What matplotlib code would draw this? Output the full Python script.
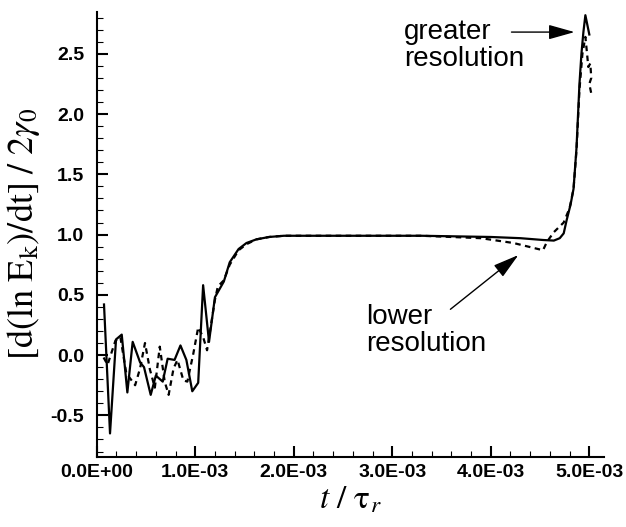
import numpy as np
import matplotlib
matplotlib.use("Agg")
import matplotlib.pyplot as plt
from matplotlib.ticker import MultipleLocator, FormatStrFormatter

plt.rcParams['mathtext.fontset'] = 'stix'

# greater resolution (solid), t in units of 1e-3
t_hi = np.array([0.074, 0.135, 0.196, 0.254, 0.311, 0.365, 0.44, 0.48, 0.548, 0.60,
                 0.67, 0.72, 0.79, 0.85, 0.91, 0.97, 1.03, 1.08, 1.14, 1.20,
                 1.29, 1.35, 1.44, 1.52, 1.62, 1.75, 1.9, 2.5, 3.3, 4.0,
                 4.3, 4.53, 4.64, 4.70, 4.74, 4.77, 4.81, 4.84, 4.87, 4.90,
                 4.92, 4.94, 4.96, 4.98, 5.00]) * 1e-3
g_hi = np.array([0.42, -0.65, 0.13, 0.17, -0.31, 0.11, -0.06, -0.10, -0.33, -0.17,
                 -0.22, -0.03, -0.04, 0.08, -0.04, -0.30, -0.23, 0.58, 0.11, 0.48,
                 0.61, 0.77, 0.88, 0.93, 0.96, 0.98, 0.99, 0.99, 0.99, 0.98,
                 0.97, 0.955, 0.95, 0.97, 1.01, 1.12, 1.25, 1.38, 1.72, 2.25,
                 2.5, 2.68, 2.82, 2.74, 2.66])

# lower resolution (dashed)
t_lo = np.array([0.07, 0.11, 0.19, 0.24, 0.30, 0.39, 0.44, 0.49, 0.54, 0.59,
                 0.64, 0.69, 0.73, 0.78, 0.82, 0.88, 0.92, 0.98, 1.03, 1.08,
                 1.12, 1.20, 1.23, 1.29, 1.35, 1.44, 1.52, 1.62, 1.75, 1.9,
                 2.5, 3.3, 3.9, 4.23, 4.53, 4.57, 4.64, 4.74, 4.80, 4.84,
                 4.87, 4.90, 4.93, 4.96, 4.97, 4.99, 5.01, 5.02, 5.00, 5.02]) * 1e-3
g_lo = np.array([-0.02, -0.08, 0.12, 0.15, -0.15, -0.25, -0.11, 0.10, -0.12, -0.27,
                 0.07, -0.22, -0.33, -0.11, -0.04, -0.21, -0.22, 0.01, 0.23, 0.15,
                 0.04, 0.46, 0.57, 0.62, 0.75, 0.87, 0.92, 0.96, 0.98, 0.99,
                 0.99, 0.99, 0.97, 0.93, 0.87, 0.94, 1.02, 1.10, 1.22, 1.38,
                 1.70, 2.20, 2.50, 2.64, 2.56, 2.39, 2.42, 2.30, 2.25, 2.17])

fig = plt.figure(figsize=(6.26, 5.27), dpi=100)
ax = fig.add_axes([0.1545, 0.1334, 0.8105, 0.8446])

ax.plot(t_hi, g_hi, color='black', lw=1.6)
ax.plot(t_lo, g_lo, color='black', lw=1.6, linestyle=(0, (2.5, 2)))

ax.set_xlim(0, 5.15e-3)
ax.set_ylim(-0.843, 2.85)

for s in ['top', 'right']:
    ax.spines[s].set_visible(False)
for s in ['left', 'bottom']:
    ax.spines[s].set_linewidth(1.5)

ax.xaxis.set_major_locator(MultipleLocator(1e-3))
ax.xaxis.set_minor_locator(MultipleLocator(0.2e-3))
ax.yaxis.set_major_locator(MultipleLocator(0.5))
ax.yaxis.set_minor_locator(MultipleLocator(0.1))
ax.xaxis.set_major_formatter(FormatStrFormatter('%.1E'))
ax.yaxis.set_major_formatter(FormatStrFormatter('%.1f'))
ax.tick_params(which='major', direction='in', length=8, width=1.5)
ax.tick_params(which='minor', direction='in', length=4, width=0.8)
ax.tick_params(axis='y', which='major', pad=9)
ax.tick_params(axis='x', which='major', pad=5)
for lab in ax.get_xticklabels() + ax.get_yticklabels():
    lab.set_fontfamily('Liberation Sans')
    lab.set_fontweight('bold')
    lab.set_fontsize(14)

ax.set_xlabel(r'$t\ /\ \mathrm{\tau}_r$', fontsize=24, labelpad=1)
ax.set_ylabel(r'$\mathrm{[d(ln\ E_k)/dt]\ /\ 2}\gamma_0$', fontsize=26, labelpad=6)

arrow = dict(arrowstyle='-|>,head_length=1.6,head_width=0.45', color='black', lw=1,
             shrinkA=0, shrinkB=0)
ax.text(3.12e-3, 2.40, 'greater\nresolution', fontsize=20, family='Liberation Sans',
        linespacing=1.05, va='baseline')
ax.annotate('', xy=(4.85e-3, 2.68), xytext=(4.21e-3, 2.68), arrowprops=arrow)
ax.text(2.73e-3, 0.03, 'lower\nresolution', fontsize=20, family='Liberation Sans',
        linespacing=1.05, va='baseline')
ax.annotate('', xy=(4.28e-3, 0.83), xytext=(3.59e-3, 0.38), arrowprops=arrow)

fig.savefig('out.png', dpi=100)
